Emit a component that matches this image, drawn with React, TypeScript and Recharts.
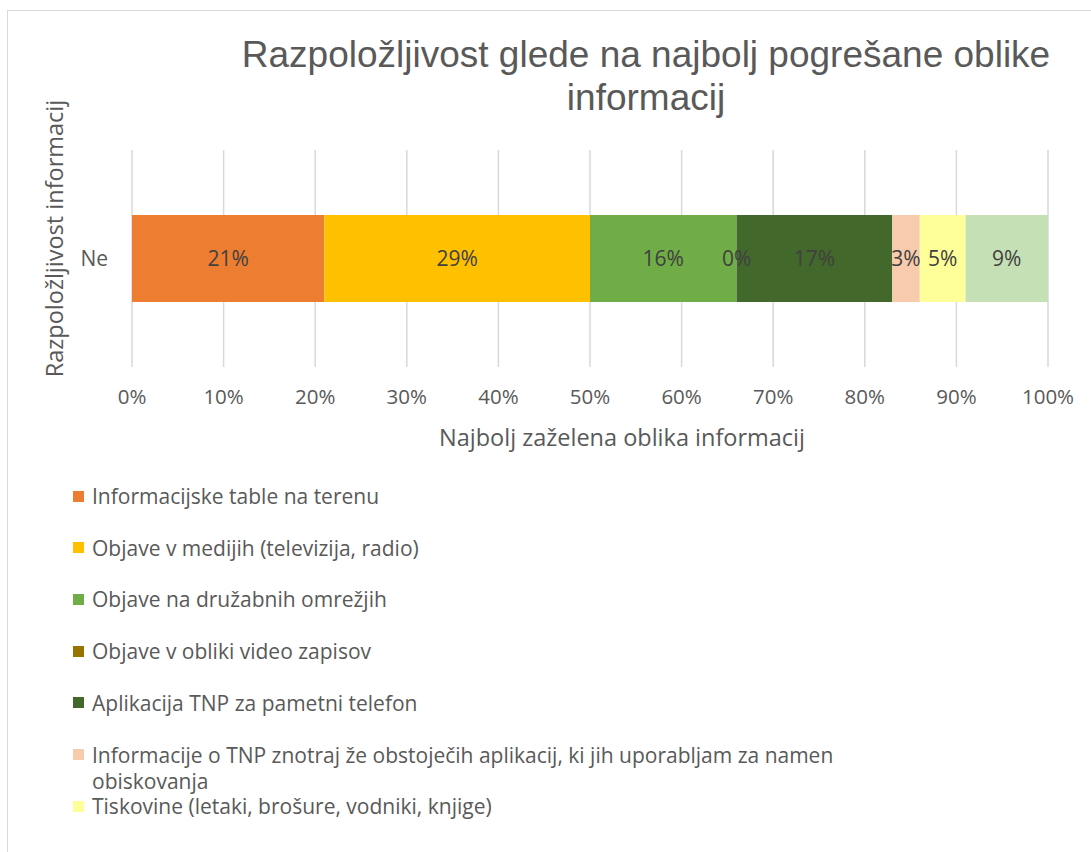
import { BarChart, Bar, XAxis, YAxis, CartesianGrid, LabelList } from 'recharts';

const CATEGORIES = ['Ne'];
const SERIES_NAMES = [
  'Informacijske table na terenu',
  'Objave v medijih (televizija, radio)',
  'Objave na družabnih omrežjih',
  'Objave v obliki video zapisov',
  'Aplikacija TNP za pametni telefon',
  'Informacije o TNP znotraj že obstoječih aplikacij, ki jih uporabljam za namen obiskovanja',
  'Tiskovine (letaki, brošure, vodniki, knjige)',
  'Drugo',
];
const SERIES_VALUES = [21, 29, 16, 0, 17, 3, 5, 9];
const SERIES_COLORS = ['#ED7D31', '#FFC000', '#70AD47', '#997300', '#43682B', '#F8CBAD', '#FFFF99', '#C5E0B4'];
const X_TICKS = [0, 10, 20, 30, 40, 50, 60, 70, 80, 90, 100];

const TITLE = ['Razpoložljivost glede na najbolj pogrešane oblike', 'informacij'];
const X_TITLE = 'Najbolj zaželena oblika informacij';
const Y_TITLE = 'Razpoložljivost informacij';

// only the first 7 legend entries fit inside the chart area
const LEGEND_VISIBLE = 7;

const FONT = '"Open Sans", sans-serif';
const TEXT = '#595959';

const data = CATEGORIES.map((name, ci) => {
  const row: any = { name };
  SERIES_VALUES.forEach((v, i) => {
    row[`s${i}`] = ci === 0 ? v : 0;
  });
  return row;
});

export default function App() {
  return (
    <div style={{ position: 'absolute', left: 0, top: 0, width: 1091, height: 852, overflow: 'hidden', background: '#fff' }}>
      <div style={{ position: 'absolute', left: 7, top: 10, width: 1100, height: 900, borderTop: '1.5px solid #d9d9d9', borderLeft: '1.5px solid #d9d9d9' }} />

      {/* Title */}
      <div style={{ position: 'absolute', left: 0, width: 1292, top: 33, textAlign: 'center', fontFamily: '"Liberation Sans", Arial, sans-serif', fontSize: 37, lineHeight: '43px', color: TEXT }}>
        {TITLE.map((t) => (
          <div key={t}>{t}</div>
        ))}
      </div>

      <div style={{ position: 'absolute', left: 0, top: 0 }}>
        <BarChart width={1091} height={852} data={data} layout="vertical" barCategoryGap="30%" margin={{ top: 150, right: 43, left: 0, bottom: 395 }}>
          <CartesianGrid horizontal={false} stroke="#d9d9d9" strokeWidth={1.5} />
          <XAxis
            type="number"
            domain={[0, 100]}
            ticks={X_TICKS}
            tickFormatter={(v) => `${v}%`}
            axisLine={false}
            tickLine={false}
            tickMargin={16}
            height={90}
            interval={0}
            tick={{ fill: TEXT, fontSize: 20.5, fontFamily: FONT }}
            label={{
              content: ({ viewBox }: any) => (
                <text x={viewBox.x + viewBox.width / 2 + 32} y={viewBox.y + 70} textAnchor="middle" dominantBaseline="central" fill={TEXT} fontSize={23.5} fontFamily={FONT}>
                  {X_TITLE}
                </text>
              ),
            }}
          />
          <YAxis
            type="category"
            dataKey="name"
            width={132}
            axisLine={false}
            tickLine={false}
            tickMargin={18}
            tick={{ fill: TEXT, fontSize: 21, fontFamily: FONT }}
            label={{
              content: ({ viewBox }: any) => {
                const cx = viewBox.x + 54;
                const cy = viewBox.y + viewBox.height / 2 - 20;
                return (
                  <text x={cx} y={cy} textAnchor="middle" dominantBaseline="central" transform={`rotate(-90 ${cx} ${cy})`} fill={TEXT} fontSize={23.5} fontFamily={FONT}>
                    {Y_TITLE}
                  </text>
                );
              },
            }}
          />
          {SERIES_NAMES.map((name, i) => (
            <Bar key={name} dataKey={`s${i}`} name={name} stackId="a" fill={SERIES_COLORS[i]} minPointSize={0.01} isAnimationActive={false}>
              <LabelList dataKey={`s${i}`} position="center" formatter={(v: any) => `${v}%`} fill="#404040" fontSize={21} fontFamily={FONT} />
            </Bar>
          ))}
        </BarChart>
      </div>

      {/* Legend */}
      {SERIES_NAMES.slice(0, LEGEND_VISIBLE).map((name, i) => (
        <div key={name} style={{ position: 'absolute', left: 73, top: 483 + i * 51.7, width: 790, display: 'flex', alignItems: 'flex-start', fontFamily: FONT, fontSize: 21, lineHeight: '26px', color: TEXT }}>
          <span style={{ width: 11, height: 11, marginTop: 7.5, marginRight: 8, flex: 'none', background: SERIES_COLORS[i] }} />
          <span>{name}</span>
        </div>
      ))}
    </div>
  );
}
